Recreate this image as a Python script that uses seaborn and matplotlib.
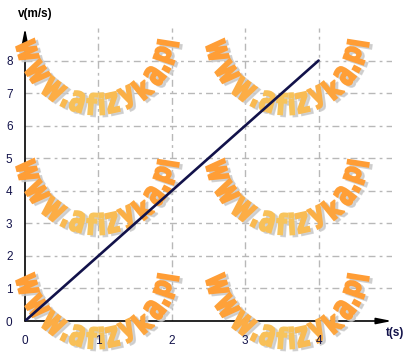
import numpy as np
import pandas as pd
import seaborn as sns
import matplotlib.colors as mcolors
import matplotlib.transforms as mtransforms

from matplotlib import pyplot as plt
from matplotlib.font_manager import FontProperties
from matplotlib.patches import PathPatch
from matplotlib.textpath import TextPath

# v(t) for uniformly accelerated motion
T = [0, 4]
V = [0, 8]
X_TICKS = [0, 1, 2, 3, 4]
Y_TICKS = [0, 1, 2, 3, 4, 5, 6, 7, 8]
X_LABEL = 't(s)'
Y_LABEL = 'v(m/s)'

WATERMARK = 'www.afizyka.pl'
# arc centres of the watermarks, in pixels from the top left corner
WM_CENTRES = [(97, 32), (287, 32), (97, 152), (287, 152), (97, 266), (287, 266)]

W, H = 411, 354
INK = '#12124a'


def draw_watermark(ax, fig, cx, cy, r=72, a0=-75, a1=81):
    prop = FontProperties(family='DejaVu Sans', weight='bold')
    glyphs = [TextPath((0, 0), ch, size=1, prop=prop) for ch in WATERMARK]
    widths = np.array([g.get_extents().width + 0.1 for g in glyphs])
    mids = np.cumsum(widths) - widths / 2
    frac = (mids - mids[0]) / (mids[-1] - mids[0])
    angles = a0 + frac * (a1 - a0)

    orange = np.array(mcolors.to_rgb('#ff9d35'))
    light = np.array(mcolors.to_rgb('#f7c45c'))
    to_fig = mtransforms.Affine2D().scale(1 / W, 1 / H) + fig.transFigure

    for g, phi, f in zip(glyphs, angles, frac):
        ext = g.get_extents()
        gx = (ext.x0 + ext.x1) / 2
        # squash ascenders/descenders a little so letters look more even
        sy = 36 if ext.height < 0.62 else 28
        oy = 0.28 if ext.height < 0.62 else (ext.y0 + ext.y1) / 2
        rad = np.radians(phi)
        px = cx + r * np.sin(rad)
        py = H - (cy + r * np.cos(rad))
        tr = (mtransforms.Affine2D().translate(-gx, -oy)
              .scale(23, sy).rotate_deg(phi).translate(px, py))
        path = tr.transform_path(g)
        w = np.exp(-((f - 0.45) / 0.22) ** 2)
        col = orange * (1 - w) + light * w
        shadow = PathPatch(path, transform=mtransforms.Affine2D().translate(3, -2) + to_fig,
                           facecolor='#c9c9c9', edgecolor='#c9c9c9', linewidth=1.2,
                           alpha=0.8, zorder=2.3, clip_on=False)
        letter = PathPatch(path, transform=to_fig, facecolor=col, edgecolor=col,
                           linewidth=1.2, zorder=2.4, clip_on=False)
        ax.add_patch(shadow)
        ax.add_patch(letter)


def main():
    sns.set_style('white')
    plt.rcParams['font.family'] = ['Liberation Sans', 'DejaVu Sans']

    fig = plt.figure(figsize=(W / 100, H / 100), dpi=100)
    ax = fig.add_axes([25 / W, 33 / H, 367 / W, 293 / H])

    df = pd.DataFrame({'t': T, 'v': V})
    sns.lineplot(x='t', y='v', data=df, color=INK, linewidth=1.9, ax=ax, zorder=3)

    ax.set_xlim(0, 5)
    ax.set_ylim(0, 9)
    ax.set_xticks(X_TICKS)
    ax.set_yticks(Y_TICKS)
    ax.set_xlabel('')
    ax.set_ylabel('')
    ax.tick_params(direction='out', length=4, width=1, color='black',
                   labelsize=8.5, labelcolor=INK, pad=4)
    ax.tick_params(axis='x', pad=6)
    ax.tick_params(axis='y', pad=5)
    for s in ax.spines.values():
        s.set_visible(False)

    # grid drawn by hand so it stays under the watermark, tick labels above it
    ax.set_axisbelow(False)
    ax.grid(False)
    grid = dict(color='#b8b8b8', linewidth=1, linestyle=(0, (5, 3, 2, 3)), zorder=1)
    for x in X_TICKS[1:]:
        ax.axvline(x, **grid)
    for y in Y_TICKS[1:]:
        ax.axhline(y, **grid)

    # axes drawn as arrows
    arrow = dict(arrowstyle='-|>,head_length=0.9,head_width=0.18', color='black',
                 linewidth=1.2, shrinkA=0, shrinkB=0)
    ax.annotate('', xy=(0, 1), xytext=(0, 0), xycoords='axes fraction',
                arrowprops=arrow, zorder=2)
    ax.annotate('', xy=(1, 0), xytext=(0, 0), xycoords='axes fraction',
                arrowprops=arrow, zorder=2)

    fig.text(18 / W, 1 - 14 / H, Y_LABEL, ha='left', va='center',
             fontsize=8.5, fontweight='bold', color='black')
    fig.text(386 / W, 1 - 333 / H, X_LABEL, ha='left', va='center',
             fontsize=8.5, fontweight='bold', color=INK)

    for cx, cy in WM_CENTRES:
        draw_watermark(ax, fig, cx, cy)

    fig.savefig('out.png', dpi=100)


if __name__ == '__main__':
    main()
